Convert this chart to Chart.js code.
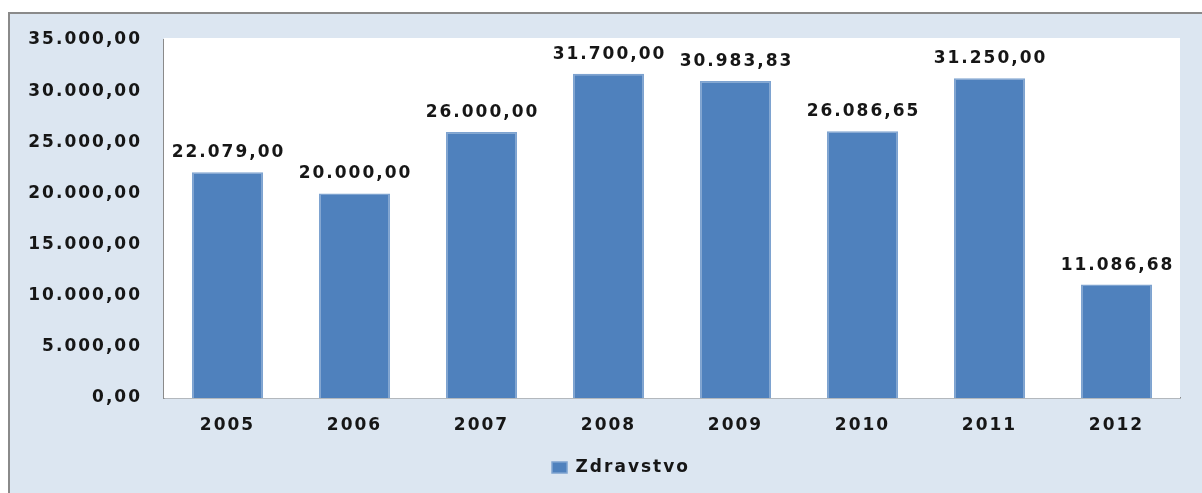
<!DOCTYPE html>
<html>
<head>
<meta charset="utf-8">
<script src="https://cdn.jsdelivr.net/npm/chart.js@4/dist/chart.umd.min.js"></script>
<style>
  html, body { margin: 0; padding: 0; background: #ffffff; overflow: hidden; }
  #frame {
    position: absolute; left: 8px; top: 12px; width: 1220px; height: 500px;
    background: #dce6f1; border-left: 2px solid #8a8a8a; border-top: 2px solid #8a8a8a;
  }
  #chart { position: absolute; left: 0; top: 0; }
</style>
</head>
<body>
<div id="frame"></div>
<canvas id="chart" width="1202" height="493"></canvas>
<script>
// Health spending (Zdravstvo) per year
const years = ['2005', '2006', '2007', '2008', '2009', '2010', '2011', '2012'];
const zdravstvo = [22079.00, 20000.00, 26000.00, 31700.00, 30983.83, 26086.65, 31250.00, 11086.68];
const seriesName = 'Zdravstvo';
const yMax = 35000;
const yStep = 5000;

// 35000 -> "35.000,00"
function fmt(v) {
  const fixed = Math.abs(v).toFixed(2);
  const [intPart, dec] = fixed.split('.');
  const grouped = intPart.replace(/\B(?=(\d{3})+(?!\d))/g, '.');
  return (v < 0 ? '-' : '') + grouped + ',' + dec;
}

const FONT = { family: '"DejaVu Sans", Verdana, sans-serif', size: 17, weight: 'bold' };
const TEXT = '#161616';
const TRACK = '2px';

// wide tracking on all chart text
const spacing = {
  id: 'spacing',
  beforeUpdate(chart) { chart.ctx.letterSpacing = TRACK; },
  beforeLayout(chart) { chart.ctx.letterSpacing = TRACK; },
  beforeDraw(chart) { chart.ctx.letterSpacing = TRACK; }
};

// nudge the legend to the right
const legendShift = {
  id: 'legendShift',
  afterLayout(chart) {
    if (chart.legend) { chart.legend.left += 31; chart.legend.right += 31; }
  }
};

// white plot area
const plotBg = {
  id: 'plotBg',
  beforeDatasetsDraw(chart) {
    const { ctx, chartArea: a } = chart;
    ctx.save();
    ctx.fillStyle = '#ffffff';
    ctx.fillRect(a.left, a.top - 2, a.right - a.left, a.bottom - a.top + 2);
    ctx.restore();
  }
};

// value labels above each bar
const valueLabels = {
  id: 'valueLabels',
  afterDatasetsDraw(chart) {
    const { ctx } = chart;
    const meta = chart.getDatasetMeta(0);
    ctx.save();
    ctx.letterSpacing = TRACK;
    ctx.font = `${FONT.weight} ${FONT.size}px ${FONT.family}`;
    ctx.fillStyle = TEXT;
    ctx.textAlign = 'center';
    ctx.textBaseline = 'bottom';
    meta.data.forEach((bar, i) => {
      ctx.fillText(fmt(chart.data.datasets[0].data[i]), bar.x + 1, bar.y - 11);
    });
    ctx.restore();
  }
};

new Chart(document.getElementById('chart'), {
  type: 'bar',
  data: {
    labels: years,
    datasets: [{
      label: seriesName,
      data: zdravstvo,
      backgroundColor: '#4f81bd',
      borderColor: '#7ea3d0',
      borderWidth: 1.5,
      categoryPercentage: 1.0,
      barPercentage: 0.56
    }]
  },
  options: {
    responsive: false,
    animation: false,
    layout: { padding: { top: 40, right: 22, bottom: 7, left: 0 } },
    plugins: {
      legend: {
        position: 'bottom',
        labels: {
          boxWidth: 15, boxHeight: 11, padding: 10,
          color: TEXT, font: FONT
        }
      },
      tooltip: { enabled: false }
    },
    scales: {
      x: {
        grid: { display: false, drawTicks: false },
        border: { display: true, color: '#8a8a8a', width: 1.5 },
        ticks: { color: TEXT, font: FONT, padding: 17 },
        afterFit(scale) { scale.height = 51; }
      },
      y: {
        min: 0, max: yMax,
        grid: { display: false, drawTicks: false },
        border: { display: true, color: '#8a8a8a', width: 1.5 },
        ticks: {
          stepSize: yStep, color: TEXT, font: FONT, padding: 22,
          callback: (v) => fmt(v)
        },
        afterFit(scale) { scale.width = 164; }
      }
    }
  },
  plugins: [spacing, legendShift, plotBg, valueLabels]
});
</script>
</body>
</html>
